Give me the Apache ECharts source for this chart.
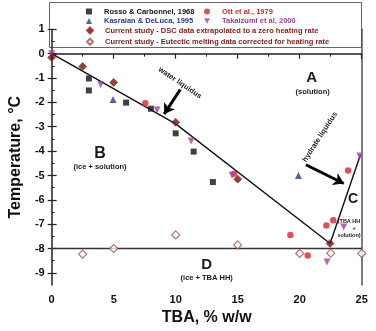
<!DOCTYPE html>
<html><head><meta charset="utf-8">
<script src="https://cdn.jsdelivr.net/npm/echarts@6/dist/echarts.min.js"></script>
<style>html,body{margin:0;padding:0;background:#fff}#c{width:376px;height:331px}</style>
</head><body><div id="c"></div>
<script>
// ---- data ----
const rosso = [[3,-1.02],[3,-1.51],[6,-2.01],[8,-2.26],[10,-3.27],[11.45,-4.02],[13,-5.27]];
const ott = [[7.55,-2.04],[14.7,-4.93],[23.9,-4.8],[22.7,-6.84],[22.15,-7.05],[19.25,-7.44],[20.65,-8.28]];
const kasraian = [[4.95,-1.88],[19.9,-5.0]];
const takaizumi = [[0,0],[3.95,-1.28],[8.5,-2.31],[11.25,-3.58],[14.55,-4.99],[24.85,-4.2],[23.55,-7.12],[22.2,-8.55]];
const dsc = [[0,-0.16],[2.5,-0.53],[5,-1.18],[10,-2.82],[15,-5.15],[22.45,-7.79]];
const eutectic = [[2.5,-8.23],[5,-8.0],[10,-7.44],[15,-7.85],[20,-8.2],[22.5,-8.19],[25,-8.2]];
const waterLiquidus = [[0,0],[10,-2.88],[22.45,-7.79]];
const hydrateLiquidus = [[22.45,-7.79],[24.9,-4.15]];
const eutecticLine = [[0,-8],[25,-8]];
const waterArrow = [[10.37,-1.47],[9.07,-2.48]];
const hydrateArrow = [[20.5,-4.56],[23.55,-5.33]];
const xTicks = [0,5,10,15,20,25];
const yTicks = [-9,-8,-7,-6,-5,-4,-3,-2,-1,0,1];
const yMinorTicks = [-8.5,-7.5,-6.5,-5.5,-4.5,-3.5,-2.5,-1.5,-0.5,0.5];
const names = ['Rosso & Carbonnel, 1968','Ott et al., 1979','Kasraian & DeLuca, 1995','Takaizumi et al, 2000',
  'Current study - DSC data extrapolated to a zero heating rate','Current study - Eutectic melting data corrected for heating rate'];

const FONT = '"Liberation Sans", Arial, sans-serif';
const AX = '#222';
const DOWN_TRI = 'path://M0,0 L10,0 L5,9 Z';
const chart = echarts.init(document.getElementById('c'), null, {renderer:'canvas'});

function leg(name, left, top, color){
  return {data:[name], left:left, top:top, padding:0, itemWidth:6, itemHeight:6, itemGap:0,
    selectedMode:false,
    textStyle:{color:color, fontFamily:FONT, fontWeight:'bold', fontSize:7.5, padding:[0,0,0,7]}};
}
function txt(x,y,t,size,rot){
  return {type:'text', x:x, y:y, rotation:rot||0, z:50,
    style:{text:t, fill:'#1a1a1a', font:'bold '+size+'px '+FONT, textAlign:'center', textVerticalAlign:'middle'}};
}
const D2R = Math.PI/180;

const baseY = {type:'value', min:-9.5, max:1, splitLine:{show:false}};
chart.setOption({
  animation:false,
  grid:{left:42.3, right:14.3, top:29.3, bottom:43.7},
  legend:[
    leg(names[0], 86, 7.5, '#111'),
    leg(names[1], 204, 7.5, '#c8302b'),
    leg(names[2], 86, 17, '#2b3a8e'),
    leg(names[3], 204, 17, '#93409b'),
    leg(names[4], 86, 26.5, '#7b1c1c'),
    leg(names[5], 86, 37.8, '#7b1c1c')
  ],
  xAxis:{type:'value', min:0, max:25, interval:5,
    name:'TBA, % w/w', nameLocation:'middle', nameGap:24,
    nameTextStyle:{fontFamily:FONT, fontWeight:'bold', fontSize:16, color:'#111'},
    axisLine:{lineStyle:{color:AX, width:1.5}},
    axisTick:{length:5, lineStyle:{color:AX, width:1.2}},
    minorTick:{show:true, splitNumber:2, length:3, lineStyle:{color:AX, width:1}},
    axisLabel:{customValues:xTicks, fontFamily:FONT, fontWeight:'bold', fontSize:11, color:'#111', margin:9},
    splitLine:{show:false}},
  yAxis:[
    Object.assign({}, baseY, {position:'left',
      name:'Temperature, °C', nameLocation:'middle', nameGap:23,
      nameTextStyle:{fontFamily:FONT, fontWeight:'bold', fontSize:16, color:'#111'},
      axisLine:{show:true, lineStyle:{color:AX, width:1.5}},
      axisTick:{show:true, customValues:yTicks, length:4, lineStyle:{color:AX, width:1.2}},
      axisLabel:{customValues:yTicks, fontFamily:FONT, fontWeight:'bold', fontSize:11, color:'#111', margin:7}}),
    Object.assign({}, baseY, {position:'left',
      axisLine:{show:false},
      axisTick:{show:true, inside:true, customValues:yTicks, length:5, lineStyle:{color:AX, width:1.2}},
      axisLabel:{show:false}}),
    Object.assign({}, baseY, {position:'left',
      axisLine:{show:false},
      axisTick:{show:true, inside:true, customValues:yMinorTicks, length:3, lineStyle:{color:AX, width:1}},
      axisLabel:{show:false}}),
    Object.assign({}, baseY, {position:'right',
      axisLine:{show:true, lineStyle:{color:'#555', width:1.5}},
      axisTick:{show:false}, axisLabel:{show:false}})
  ],
  graphic:[
    {type:'rect', z:-1, shape:{x:49.5, y:2.5, width:312, height:45}, style:{fill:'#fff', stroke:'#666', lineWidth:1}},
    txt(311.7,78.3,'A',15), txt(312.7,92.3,'(solution)',7.5),
    txt(100,153.3,'B',16), txt(100,166.7,'(ice + solution)',7.5),
    txt(353,199,'C',14),
    txt(349,221,'(TBA HH',5.5), txt(354,228,'+',5.5), txt(349,235,'solution)',5.5),
    txt(206.7,265,'D',15), txt(206.7,278.3,'(ice + TBA HH)',7.5),
    txt(180,83,'water liquidus',7.5,-34*D2R),
    txt(320,137,'hydrate liquidus',7.5,57*D2R)
  ],
  series:[
    {type:'line', name:'water liquidus line', data:waterLiquidus, showSymbol:false, symbol:'none', silent:true,
      lineStyle:{color:'#111', width:1.4}, z:1,
      markLine:{silent:true, symbol:['none','arrow'], symbolSize:10, label:{show:false},
        lineStyle:{color:'#000', width:3, type:'solid'},
        data:[[{coord:waterArrow[0]},{coord:waterArrow[1]}],[{coord:hydrateArrow[0]},{coord:hydrateArrow[1]}]]}},
    {type:'line', name:'hydrate liquidus line', data:hydrateLiquidus, symbol:'none', silent:true,
      lineStyle:{color:'#111', width:1.4}, z:1},
    {type:'line', name:'eutectic line', data:eutecticLine, symbol:'none', silent:true,
      lineStyle:{color:'#333', width:1.6}, z:1},
    {type:'scatter', name:names[0], data:rosso, symbol:'rect', symbolSize:6, itemStyle:{color:'#111'}, z:3},
    {type:'scatter', name:names[1], data:ott, symbol:'circle', symbolSize:6.5, itemStyle:{color:'#d8262a'}, z:3},
    {type:'scatter', name:names[2], data:kasraian, symbol:'triangle', symbolSize:7, itemStyle:{color:'#2b3a8e'}, z:3},
    {type:'scatter', name:names[3], data:takaizumi, symbol:DOWN_TRI, symbolSize:7, itemStyle:{color:'#a0449f'}, z:3},
    {type:'scatter', name:names[4], data:dsc, symbol:'diamond', symbolSize:8, itemStyle:{color:'#6e1515', borderColor:'#9a2a2a', borderWidth:0.8}, z:4},
    {type:'scatter', name:names[5], data:eutectic, symbol:'diamond', symbolSize:8, itemStyle:{color:'#fff', borderColor:'#9a5545', borderWidth:1.2}, z:4}
  ]
});
</script></body></html>
